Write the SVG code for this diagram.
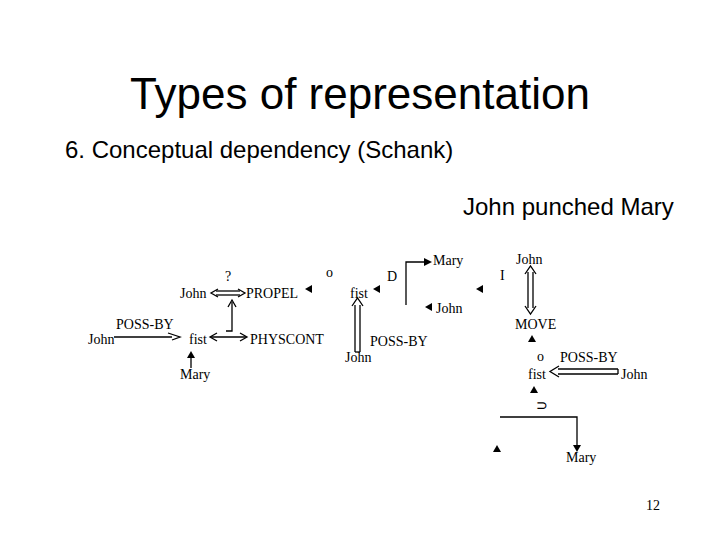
<svg xmlns="http://www.w3.org/2000/svg" width="720" height="540" viewBox="0 0 720 540">
<defs>
<style>
.t{font-family:"Liberation Sans",Arial,sans-serif;fill:#000}
.d{font-family:"Liberation Serif","Times New Roman",serif;font-size:14px;fill:#000}
.l{stroke:#000;stroke-width:1.3;fill:none}
.o{stroke:#000;stroke-width:1;fill:#fff}
.f{fill:#000}
</style>
</defs>
<rect width="720" height="540" fill="#fff"/>
<text class="t" x="360" y="109" font-size="44" text-anchor="middle">Types of representation</text>
<text class="t" x="65" y="158" font-size="24">6. Conceptual dependency (Schank)</text>
<text class="t" x="463" y="215" font-size="24">John punched Mary</text>
<text class="d" x="646" y="510">12</text>

<g id="nodes">
<g id="n-q"><text class="d" x="225" y="281">?</text></g>
<g id="n-john1"><text class="d" x="180" y="298">John</text></g>
<g id="n-propel"><text class="d" x="246" y="298">PROPEL</text></g>
<g id="n-possby1"><text class="d" x="116" y="329">POSS-BY</text></g>
<g id="n-john2"><text class="d" x="88" y="344">John</text></g>
<g id="n-fist1"><text class="d" x="189" y="344">fist</text></g>
<g id="n-physcont"><text class="d" x="250" y="344">PHYSCONT</text></g>
<g id="n-mary1"><text class="d" x="180" y="379">Mary</text></g>
<g id="n-o1"><text class="d" x="326" y="277">o</text></g>
<g id="n-fist2"><text class="d" x="350" y="298">fist</text></g>
<g id="n-d"><text class="d" x="387" y="281">D</text></g>
<g id="n-mary2"><text class="d" x="433" y="265">Mary</text></g>
<g id="n-john3"><text class="d" x="436" y="313">John</text></g>
<g id="n-possby2"><text class="d" x="370" y="346">POSS-BY</text></g>
<g id="n-john4"><text class="d" x="345" y="362">John</text></g>
<g id="n-i"><text class="d" x="500" y="280">I</text></g>
<g id="n-john5"><text class="d" x="516" y="264">John</text></g>
<g id="n-move"><text class="d" x="515" y="329">MOVE</text></g>
<g id="n-o2"><text class="d" x="537" y="361">o</text></g>
<g id="n-possby3"><text class="d" x="560" y="362">POSS-BY</text></g>
<g id="n-fist3"><text class="d" x="528" y="379">fist</text></g>
<g id="n-john6"><text class="d" x="621" y="379">John</text></g>
<g id="n-sup"><text class="d" x="536" y="410">⊃</text></g>
<g id="n-mary3"><text class="d" x="566" y="462">Mary</text></g>
</g>

<g id="connectors">
<!-- John <=> PROPEL -->
<line class="l" x1="216" y1="291" x2="240" y2="291"/>
<line class="l" x1="216" y1="295" x2="240" y2="295"/>
<polyline class="l" points="218,289 211,293 218,297"/>
<polyline class="l" points="238,289 245,293 238,297"/>
<!-- vertical up to PROPEL -->
<polyline class="l" points="226,331 232,331 232,302"/>
<polyline class="l" points="228,307 232,300 236,307"/>
<!-- fist <-> PHYSCONT -->
<line class="l" x1="211" y1="337" x2="246" y2="337"/>
<polyline class="l" points="217,333 210,337 217,341"/>
<polyline class="l" points="240,333 247,337 240,341"/>
<!-- John -> fist POSS-BY -->
<line class="l" x1="114" y1="337" x2="172" y2="337"/>
<polyline class="l" points="168,333 180,337 172,340"/>
<!-- Mary -> fist -->
<line class="l" x1="191" y1="357" x2="191" y2="368"/>
<polygon class="f" points="187,358 195,358 191,351"/>
<!-- filled triangles -->
<polygon class="f" points="305,289 312,285 312,293"/>
<polygon class="f" points="373,289 380,285 380,293"/>
<polygon class="f" points="476,289 483,285 483,293"/>
<!-- D bracket -->
<polyline class="l" points="406,305 406,262 426,262"/>
<polygon class="f" points="432,262 424,258 424,266"/>
<polygon class="f" points="425,307 432,303 432,311"/>
<!-- John => fist (double vertical) -->
<line class="l" x1="355" y1="305" x2="355" y2="352"/>
<line class="l" x1="360" y1="305" x2="360" y2="352"/>
<line class="l" x1="355" y1="352" x2="360" y2="352"/>
<polyline class="l" points="352,306 357.5,298 363,306"/>
<!-- John <=> MOVE -->
<line class="l" x1="528" y1="272" x2="528" y2="308"/>
<line class="l" x1="533" y1="272" x2="533" y2="308"/>
<polyline class="l" points="525,274 530.5,266 536,274"/>
<polyline class="l" points="525,306 530.5,314 536,306"/>
<!-- up triangle under MOVE -->
<polygon class="f" points="528,342 536,342 532,335"/>
<!-- John => fist POSS-BY -->
<line class="l" x1="558" y1="369" x2="618" y2="369"/>
<line class="l" x1="558" y1="374" x2="618" y2="374"/>
<line class="l" x1="618" y1="369" x2="618" y2="374"/>
<polyline class="l" points="559,366 550,371.5 559,377"/>
<!-- up triangle under fist -->
<polygon class="f" points="530,393 538,393 534,386"/>
<!-- bottom bracket -->
<polyline class="l" points="500,417 577,417 577,447"/>
<polygon class="f" points="573,445 581,445 577,452"/>
<polygon class="f" points="493,452 501,452 497,445"/>
</g>
</svg>
